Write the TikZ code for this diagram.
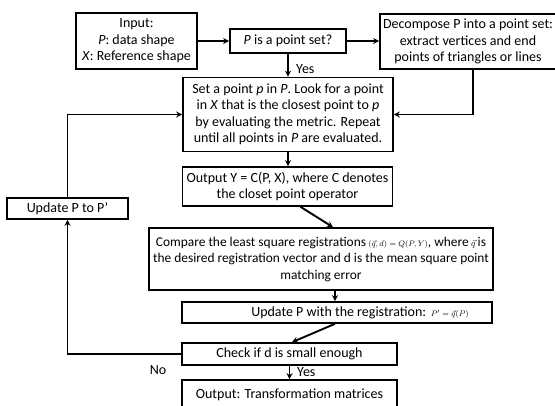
\documentclass[tikz,border=0pt]{standalone}
\usepackage{fontspec}
\setmainfont{Carlito}
\usetikzlibrary{arrows.meta,calc}
\begin{document}
\begin{tikzpicture}[x=1pt,y=-1pt,
  box/.style={draw, line width=1.6pt, align=center, inner sep=1.5pt, font=\fontsize{14}{16.5}\selectfont},
  conn/.style={line width=1.9pt, -{Stealth[length=6pt,width=6pt]}},
  lbl/.style={font=\fontsize{14}{16}\selectfont, inner sep=0pt}]
\useasboundingbox (0,0) rectangle (555,405);
\node[box, minimum width=121pt, minimum height=56pt] (inp) at (136.5,41) {Input:\\\textit{P}: data shape\\\textit{X}: Reference shape};
\node[box, minimum width=116pt, minimum height=24pt] (pset) at (288,41) {\textit{P} is a point set?};
\node[box, minimum width=176pt, minimum height=55pt] (dec) at (468,41.5) {Decompose P into a point set:\\extract vertices and end\\points of triangles or lines};
\node[box, minimum width=210pt, minimum height=74pt] (setp) at (288,114.5) {Set a point \textit{p} in \textit{P}. Look for a point\\in \textit{X} that is the closest point to \textit{p}\\by evaluating the metric. Repeat\\until all points in \textit{P} are evaluated.};
\node[box, minimum width=210pt, minimum height=39pt] (outy) at (287.5,186.5) {Output Y = C(P, X), where C denotes\\the closet point operator};
\node[box, minimum width=121pt, minimum height=21pt] (upd1) at (67.5,208.5) {Update P to P’};
\node[box, minimum width=344pt, minimum height=62pt, font=\fontsize{13.4}{16.5}\selectfont] (cmp) at (321,259) {Compare the least square registrations\,{\fontsize{8.5}{10}\selectfont$(\vec{q},d)=Q(P,Y)$}, where\,{\fontsize{9}{10}\selectfont$\vec{q}$}\,is\\the desired registration vector and d is the mean square point\\matching error};
\node[box, minimum width=310pt, minimum height=21pt] (upd2) at (337,312.5) {\hspace*{46pt}Update P with the registration:\,\,{\fontsize{8.5}{10}\selectfont$P'=\vec{q}(P)$}};
\node[box, minimum width=215pt, minimum height=22pt] (chk) at (289.5,354) {Check if d is small enough};
\node[box, minimum width=215pt, minimum height=30pt] (outt) at (289.5,395) {Output: Transformation matrices};
\draw[conn] (inp.east) -- (pset.west);
\draw[conn] (pset.east) -- (pset.east -| dec.west);
\draw[conn] (pset.south) -- (setp.north);
\node[lbl, anchor=west] (yes1) at (296,69) {Yes};
\draw[conn] ([xshift=5pt]dec.south) |- (setp.east);
\draw[conn] (setp.south) -- (setp.south |- outy.north);
\draw[conn] ([xshift=13pt]outy.south) -- ([xshift=12pt]cmp.north);
\draw[conn] ([xshift=14pt]cmp.south) -- ([xshift=14pt]cmp.south |- upd2.north);
\draw[conn] ([xshift=-2pt]upd2.south) -- ([xshift=2.5pt]chk.north);
\draw[conn] (chk.south) -- (chk.south |- outt.north);
\node[lbl, anchor=west] (yes2) at (297,372) {Yes};
\draw[conn] (chk.west) -| (upd1.south);
\node[lbl] (no) at (158,370) {No};
\draw[conn] (upd1.north) |- (setp.west);
\end{tikzpicture}
\end{document}
